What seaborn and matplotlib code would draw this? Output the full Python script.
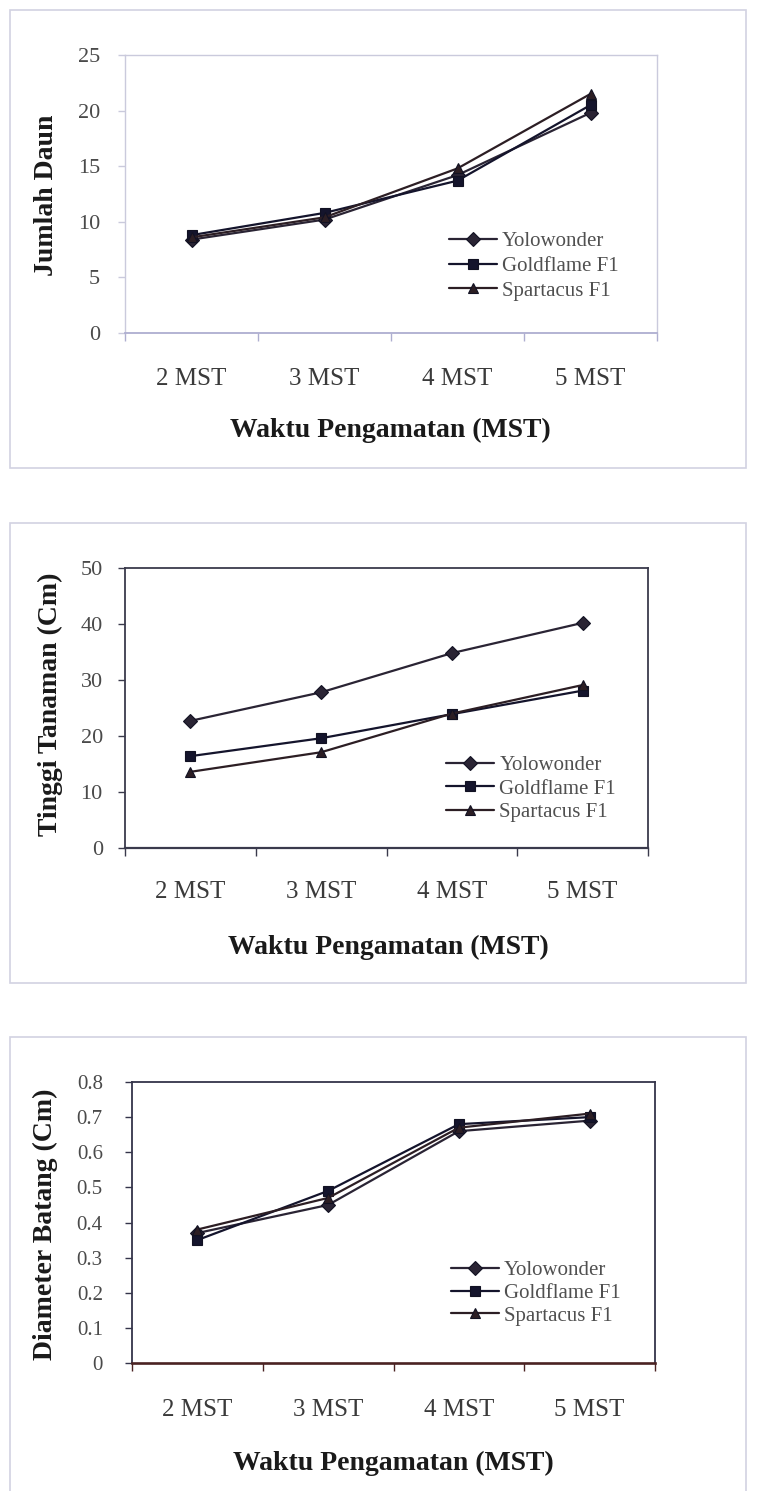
import numpy as np
import pandas as pd
import matplotlib
matplotlib.use('Agg')
import matplotlib.pyplot as plt
import seaborn as sns
from matplotlib.patches import Rectangle
from matplotlib.ticker import FixedLocator, FuncFormatter

waktu = ['2 MST', '3 MST', '4 MST', '5 MST']
varietas = ['Yolowonder', 'Goldflame F1', 'Spartacus F1']

# Jumlah Daun
daun_yolo = [8.4, 10.2, 14.2, 19.8]
daun_gold = [8.8, 10.8, 13.7, 20.5]
daun_spar = [8.6, 10.4, 14.8, 21.5]

# Tinggi Tanaman (Cm)
tinggi_yolo = [22.7, 27.8, 34.8, 40.2]
tinggi_gold = [16.4, 19.6, 23.9, 28.1]
tinggi_spar = [13.6, 17.1, 24.0, 29.1]

# Diameter Batang (Cm)
diam_yolo = [0.37, 0.45, 0.66, 0.69]
diam_gold = [0.35, 0.49, 0.68, 0.70]
diam_spar = [0.38, 0.47, 0.67, 0.71]

W, H = 760, 1491

sns.set_style('white')
plt.rcParams['font.family'] = ['Liberation Serif', 'DejaVu Serif']

warna = ['#2a2434', '#14142c', '#2c1e24']
penanda = ['D', 's', '^']


def rect(l, t, r, b):
    return [l / W, 1 - b / H, (r - l) / W, (b - t) / H]


def long_df(yolo, gold, spar):
    return pd.DataFrame({
        'waktu': waktu * 3,
        'varietas': np.repeat(varietas, len(waktu)),
        'nilai': yolo + gold + spar,
    })


def gambar_panel(ax, df, ylabel, yticks, fmt, frame_col, bottom_col, frame_lw,
                 bottom_lw, ytick_size, ytick_pad, xtick_pad, xlab_pos, ylab_pos,
                 leg_pos, leg_space):
    sns.lineplot(data=df, x='waktu', y='nilai', hue='varietas', style='varietas',
                 markers=penanda, dashes=False, palette=warna, sort=False,
                 markersize=7.5, linewidth=1.6, markeredgecolor='#111122',
                 markeredgewidth=0.8, legend=False, ax=ax)
    ax.set_xlim(-0.5, len(waktu) - 0.5)
    ax.set_ylim(yticks[0], yticks[-1])
    ax.yaxis.set_major_locator(FixedLocator(yticks))
    ax.yaxis.set_major_formatter(FuncFormatter(fmt))
    ax.xaxis.set_minor_locator(FixedLocator(np.arange(-0.5, len(waktu), 1.0)))
    ax.tick_params(axis='x', which='major', length=0, pad=xtick_pad,
                   labelsize=18, labelcolor='#3a3a3a')
    ax.tick_params(axis='x', which='minor', length=6, width=1, direction='out',
                   color=bottom_col, bottom=True)
    ax.tick_params(axis='y', length=5, width=1, direction='out', left=True,
                   color=frame_col, pad=ytick_pad, labelsize=ytick_size,
                   labelcolor='#4a4a4a')
    for s in ['top', 'right', 'left']:
        ax.spines[s].set_color(frame_col)
        ax.spines[s].set_linewidth(frame_lw)
    ax.spines['bottom'].set_color(bottom_col)
    ax.spines['bottom'].set_linewidth(bottom_lw)

    ax.set_xlabel('Waktu Pengamatan (MST)', fontsize=20, fontweight='bold',
                  color='#1a1a1a')
    ax.xaxis.label.set_va('center')
    ax.xaxis.set_label_coords(*xlab_pos)
    ax.set_ylabel(ylabel, fontsize=20, fontweight='bold', color='#1a1a1a')
    ax.yaxis.label.set_va('center')
    ax.yaxis.set_label_coords(*ylab_pos)

    ax.legend(ax.lines[:3], varietas, loc='center left', bbox_to_anchor=leg_pos,
              frameon=False, fontsize=15, handlelength=2.3, handletextpad=0.25,
              labelspacing=leg_space, borderpad=0, borderaxespad=0,
              labelcolor='#505050')


fig = plt.figure(figsize=(W / 100, H / 100), dpi=100)

# bingkai luar tiap grafik
for (l, t, r, b) in [(10, 10, 746, 468), (10, 523, 746, 983), (10, 1037, 746, 1500)]:
    fig.patches.append(Rectangle((l / W, 1 - b / H), (r - l) / W, (b - t) / H,
                                 transform=fig.transFigure, fill=False,
                                 edgecolor='#d2d2e2', linewidth=1.2))

ax1 = fig.add_axes(rect(125, 55, 657, 333))
gambar_panel(ax1, long_df(daun_yolo, daun_gold, daun_spar), 'Jumlah Daun',
             [0, 5, 10, 15, 20, 25], lambda v, p: f'{v:.0f}',
             '#cacadc', '#aeaed0', 1.0, 1.3, 16, 13, 25,
             (0.498, -0.349), (-0.148, 0.496), (0.609, 0.241), 0.25)

ax2 = fig.add_axes(rect(125, 568, 648, 848))
gambar_panel(ax2, long_df(tinggi_yolo, tinggi_gold, tinggi_spar),
             'Tinggi Tanaman (Cm)', [0, 10, 20, 30, 40, 50],
             lambda v, p: f'{v:.0f}',
             '#3a3a4c', '#3a3a4c', 1.3, 1.6, 16, 11, 24,
             (0.503, -0.354), (-0.143, 0.514), (0.614, 0.211), 0.2)

ax3 = fig.add_axes(rect(132, 1082, 655, 1363))
gambar_panel(ax3, long_df(diam_yolo, diam_gold, diam_spar),
             'Diameter Batang (Cm)', [round(0.1 * i, 1) for i in range(9)],
             lambda v, p: '0' if v == 0 else f'{v:.1f}',
             '#34344a', '#4a2222', 1.3, 1.9, 15, 16, 26,
             (0.50, -0.359), (-0.165, 0.495), (0.61, 0.249), 0.15)

fig.savefig('out.png', dpi=100, facecolor='white')
